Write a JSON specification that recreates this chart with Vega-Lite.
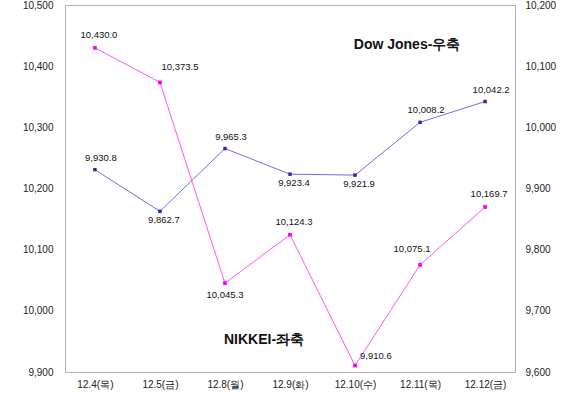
{
  "$schema": "https://vega.github.io/schema/vega-lite/v6.json",
  "width": 450,
  "height": 367,
  "autosize": {"type": "none"},
  "padding": {"left": 65, "top": 5, "right": 58, "bottom": 42},
  "background": "white",
  "config": {
    "view": {"stroke": "#b0b0b0", "strokeWidth": 1},
    "font": "Liberation Sans",
    "axis": {"grid": false, "ticks": false, "domain": false, "labelFont": "Liberation Sans", "labelFontSize": 10, "labelColor": "#222", "title": null}
  },
  "datasets": {
    "rows": [
      {"date": "12.4(목)", "nikkei": 10430.0, "dow": 9930.8},
      {"date": "12.5(금)", "nikkei": 10373.5, "dow": 9862.7},
      {"date": "12.8(월)", "nikkei": 10045.3, "dow": 9965.3},
      {"date": "12.9(화)", "nikkei": 10124.3, "dow": 9923.4},
      {"date": "12.10(수)", "nikkei": 9910.6, "dow": 9921.9},
      {"date": "12.11(목)", "nikkei": 10075.1, "dow": 10008.2},
      {"date": "12.12(금)", "nikkei": 10169.7, "dow": 10042.2}
    ],
    "notesL": [{"date": "12.9(화)", "nikkei": 9953, "label": "NIKKEI-좌축"}],
    "notesR": [{"date": "12.11(목)", "dow": 10135, "label": "Dow Jones-우축"}]
  },
  "encoding": {
    "x": {
      "field": "date", "type": "nominal", "sort": null,
      "scale": {"type": "point", "padding": 0.46, "domain": ["12.4(목)", "12.5(금)", "12.8(월)", "12.9(화)", "12.10(수)", "12.11(목)", "12.12(금)"]},
      "axis": {"labelAngle": 0, "labelPadding": 7, "orient": "bottom"}
    }
  },
  "layer": [
    {
      "encoding": {
        "y": {"field": "nikkei", "type": "quantitative",
          "scale": {"domain": [9900, 10500], "zero": false, "nice": false},
          "axis": {"orient": "left", "values": [9900, 10000, 10100, 10200, 10300, 10400, 10500], "format": ",d", "labelPadding": 12}}
      },
      "layer": [
        {"data": {"name": "rows"}, "mark": {"type": "line", "color": "#ff55ff", "strokeWidth": 1}},
        {"data": {"name": "rows"}, "mark": {"type": "point", "shape": "square", "filled": true, "size": 14, "color": "#ff00ff", "opacity": 1}},
        {"data": {"name": "rows"}, "transform": [{"filter": {"field": "date", "oneOf": ["12.4(목)", "12.9(화)", "12.12(금)"]}}],
          "mark": {"type": "text", "fontSize": 9.5, "dy": -13, "dx": 4, "color": "#111", "letterSpacing": -0.6},
          "encoding": {"text": {"field": "nikkei", "type": "quantitative", "format": ",.1f"}}},
        {"data": {"name": "rows"}, "transform": [{"filter": {"field": "date", "oneOf": ["12.5(금)"]}}],
          "mark": {"type": "text", "fontSize": 9.5, "dy": -15, "dx": 20, "color": "#111", "letterSpacing": -0.6},
          "encoding": {"text": {"field": "nikkei", "type": "quantitative", "format": ",.1f"}}},
        {"data": {"name": "rows"}, "transform": [{"filter": {"field": "date", "oneOf": ["12.11(목)"]}}],
          "mark": {"type": "text", "fontSize": 9.5, "dy": -16, "dx": -8, "color": "#111", "letterSpacing": -0.6},
          "encoding": {"text": {"field": "nikkei", "type": "quantitative", "format": ",.1f"}}},
        {"data": {"name": "rows"}, "transform": [{"filter": {"field": "date", "oneOf": ["12.8(월)"]}}],
          "mark": {"type": "text", "fontSize": 9.5, "dy": 12, "dx": 0, "color": "#111", "letterSpacing": -0.6},
          "encoding": {"text": {"field": "nikkei", "type": "quantitative", "format": ",.1f"}}},
        {"data": {"name": "rows"}, "transform": [{"filter": {"field": "date", "oneOf": ["12.10(수)"]}}],
          "mark": {"type": "text", "fontSize": 9.5, "dy": -10, "dx": 5, "align": "left", "color": "#111", "letterSpacing": -0.6},
          "encoding": {"text": {"field": "nikkei", "type": "quantitative", "format": ",.1f"}}},
        {"data": {"name": "notesL"}, "mark": {"type": "text", "fontSize": 14, "fontWeight": "bold", "dx": -26, "color": "#111", "letterSpacing": -0.8},
          "encoding": {"text": {"field": "label", "type": "nominal"}}}
      ]
    },
    {
      "encoding": {
        "y": {"field": "dow", "type": "quantitative",
          "scale": {"domain": [9600, 10200], "zero": false, "nice": false},
          "axis": {"orient": "right", "values": [9600, 9700, 9800, 9900, 10000, 10100, 10200], "format": ",d", "labelPadding": 10}}
      },
      "layer": [
        {"data": {"name": "rows"}, "mark": {"type": "line", "color": "#7070e0", "strokeWidth": 1}},
        {"data": {"name": "rows"}, "mark": {"type": "point", "shape": "square", "filled": true, "size": 12, "color": "#2a2aa0", "opacity": 1}},
        {"data": {"name": "rows"}, "transform": [{"filter": {"field": "date", "oneOf": ["12.4(목)", "12.8(월)", "12.11(목)", "12.12(금)"]}}],
          "mark": {"type": "text", "fontSize": 9.5, "dy": -12, "dx": 6, "color": "#111", "letterSpacing": -0.6},
          "encoding": {"text": {"field": "dow", "type": "quantitative", "format": ",.1f"}}},
        {"data": {"name": "rows"}, "transform": [{"filter": {"field": "date", "oneOf": ["12.5(금)", "12.9(화)", "12.10(수)"]}}],
          "mark": {"type": "text", "fontSize": 9.5, "dy": 9, "dx": 4, "color": "#111", "letterSpacing": -0.6},
          "encoding": {"text": {"field": "dow", "type": "quantitative", "format": ",.1f"}}},
        {"data": {"name": "notesR"}, "mark": {"type": "text", "fontSize": 14, "fontWeight": "bold", "dx": -13, "color": "#111", "letterSpacing": -0.8},
          "encoding": {"text": {"field": "label", "type": "nominal"}}}
      ]
    }
  ],
  "resolve": {"scale": {"y": "independent"}}
}
